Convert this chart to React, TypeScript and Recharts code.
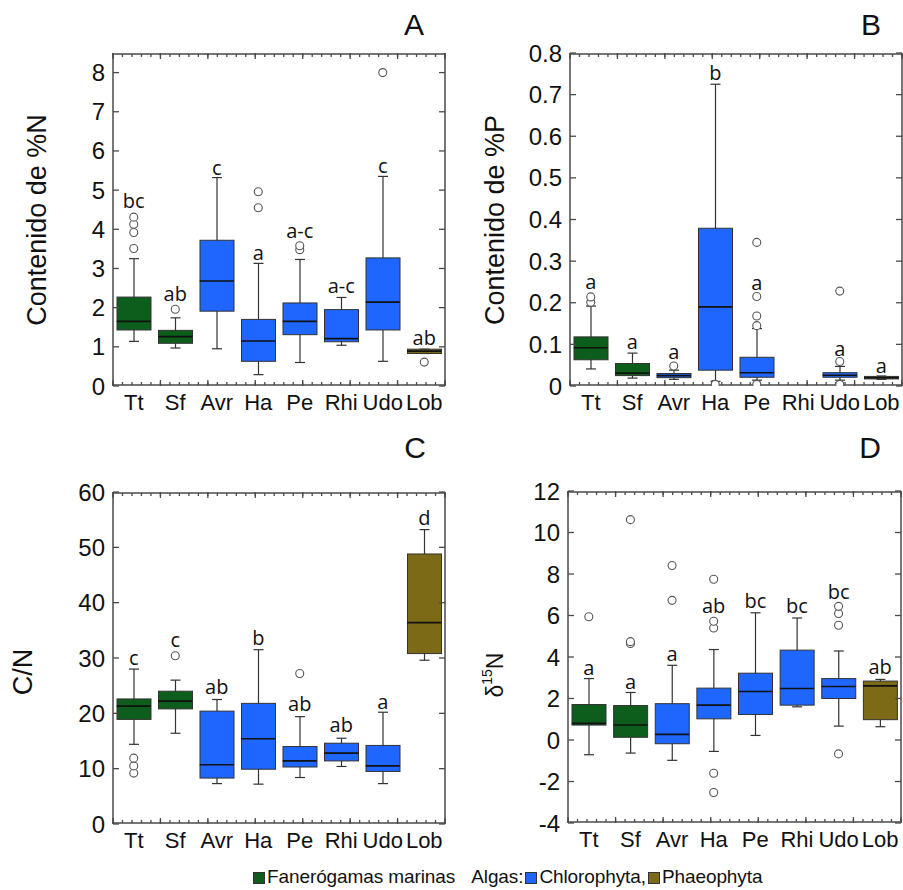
import React from "react";
import { ComposedChart, Bar, Scatter, XAxis, YAxis } from "recharts";

const CATS = ["Tt", "Sf", "Avr", "Ha", "Pe", "Rhi", "Udo", "Lob"];
const GROUP = ["fan", "fan", "chl", "chl", "chl", "chl", "chl", "pha"];

// A - contenido de %N
const N_LO = [1.14, 0.97, 0.95, 0.29, 0.6, 1.04, 0.63, 0.83];
const N_Q1 = [1.43, 1.09, 1.91, 0.63, 1.31, 1.13, 1.43, 0.83];
const N_MED = [1.65, 1.26, 2.68, 1.15, 1.65, 1.21, 2.14, 0.89];
const N_Q3 = [2.27, 1.42, 3.72, 1.7, 2.12, 1.95, 3.27, 0.94];
const N_HI = [3.25, 1.74, 5.32, 3.13, 3.23, 2.26, 5.35, 0.94];
const N_OUT = [[3.51, 3.92, 4.13, 4.31], [1.96], [], [4.55, 4.96], [3.48, 3.58], [], [8.0], [0.61]];
const N_SIG = ["bc", "ab", "c", "a", "a-c", "a-c", "c", "ab"];
const N_SIG_AT = [4.74, 2.36, 5.59, 3.42, 3.98, 2.56, 5.64, 1.23];

// B - contenido de %P (sin datos para Rhi)
const P_LO = [0.041, 0.019, 0.016, 0.011, 0.014, null, 0.014, 0.016];
const P_Q1 = [0.063, 0.025, 0.02, 0.038, 0.021, null, 0.021, 0.017];
const P_MED = [0.092, 0.031, 0.025, 0.19, 0.032, null, 0.026, 0.02];
const P_Q3 = [0.118, 0.054, 0.03, 0.379, 0.069, null, 0.032, 0.023];
const P_HI = [0.192, 0.079, 0.038, 0.725, 0.138, null, 0.047, 0.024];
const P_OUT = [[0.201, 0.214], [], [0.048], [0.004], [0.004, 0.145, 0.168, 0.215, 0.345], [], [0.004, 0.059, 0.228], []];
const P_SIG = ["a", "a", "a", "b", "a", "", "a", "a"];
const P_SIG_AT = [0.25, 0.106, 0.082, 0.752, 0.248, null, 0.091, 0.05];

// C - C/N
const CN_LO = [14.4, 16.4, 7.3, 7.2, 8.4, 10.4, 7.3, 29.6];
const CN_Q1 = [18.9, 20.8, 8.3, 9.9, 10.3, 11.4, 9.5, 30.8];
const CN_MED = [21.3, 22.2, 10.7, 15.4, 11.4, 12.8, 10.5, 36.4];
const CN_Q3 = [22.6, 24.0, 20.4, 21.8, 14.0, 14.6, 14.2, 48.8];
const CN_HI = [28.0, 26.0, 22.5, 31.5, 19.4, 15.5, 20.2, 53.2];
const CN_OUT = [[9.2, 10.5, 11.9], [30.4], [], [], [27.2], [], [], []];
const CN_SIG = ["c", "c", "ab", "b", "ab", "ab", "a", "d"];
const CN_SIG_AT = [30.1, 33.4, 24.8, 33.7, 21.7, 17.9, 22.2, 55.4];

// D - δ15N
const D_LO = [-0.71, -0.63, -0.98, -0.55, 0.22, 1.6, 0.67, 0.64];
const D_Q1 = [0.72, 0.13, -0.18, 1.02, 1.23, 1.68, 2.0, 0.98];
const D_MED = [0.8, 0.72, 0.27, 1.68, 2.34, 2.48, 2.58, 2.61];
const D_Q3 = [1.71, 1.66, 1.75, 2.5, 3.22, 4.33, 2.96, 2.84];
const D_HI = [2.96, 2.29, 3.6, 4.36, 6.13, 5.88, 4.29, 2.92];
const D_OUT = [[5.94], [4.65, 4.74, 10.62], [6.73, 8.41], [-2.53, -1.6, 5.4, 5.72, 7.75], [], [], [-0.67, 5.53, 6.1, 6.44], []];
const D_SIG = ["a", "a", "a", "ab", "bc", "bc", "bc", "ab"];
const D_SIG_AT = [3.49, 2.8, 4.16, 6.46, 6.7, 6.46, 7.18, 3.52];

const N_TICKS = [0, 1, 2, 3, 4, 5, 6, 7, 8];
const P_TICKS = [0, 0.1, 0.2, 0.3, 0.4, 0.5, 0.6, 0.7, 0.8];
const CN_TICKS = [0, 10, 20, 30, 40, 50, 60];
const D_TICKS = [-4, -2, 0, 2, 4, 6, 8, 10, 12];

const FILL: Record<string, string> = { fan: "#0d5e1c", chl: "#1f66ff", pha: "#7d6a16" };
const FRAME = "#4a4a4a";
const INK = "#333";
const SANS = "'Liberation Sans', Arial, sans-serif";
const LETTER_FONT = "'Open Sans', sans-serif";
const BOX_W = 34;
const CAP_W = 10;
const MAX_OUT = 5;

// marcas del marco: bordes de categoria y subdivisiones
const X_MAJOR = [0, 1, 2, 3, 4, 5, 6, 7, 8];
const X_MINOR = Array.from({ length: 41 }, (_, i) => i / 5);

// sin texto, pero recharts sigue dibujando la linea de la marca
const NoLabel = () => <g />;

function buildRows(lo: any[], q1: any[], med: any[], q3: any[], hi: any[], out: number[][], sig: string[], sigAt: any[]) {
  return CATS.map((cat, i) => {
    const row: any = {
      cat,
      group: GROUP[i],
      whisk: lo[i] == null ? null : [lo[i], hi[i]],
      box: q1[i] == null ? null : [q1[i], q3[i]],
      med: med[i],
      sig: sig[i],
      sigAt: sigAt[i],
    };
    for (let k = 0; k < MAX_OUT; k++) row["o" + k] = out[i][k] ?? null;
    return row;
  });
}

const WhiskerShape = (p: any) => {
  if (p.payload.whisk == null) return <g />;
  const cx = p.x + p.width / 2;
  const y2 = p.y + p.height;
  return (
    <g stroke={INK} strokeWidth={1.2}>
      <line x1={cx} x2={cx} y1={p.y} y2={y2} />
      <line x1={cx - CAP_W / 2} x2={cx + CAP_W / 2} y1={p.y} y2={p.y} />
      <line x1={cx - CAP_W / 2} x2={cx + CAP_W / 2} y1={y2} y2={y2} />
    </g>
  );
};

const BoxShape = (p: any) => {
  if (p.payload.box == null) return <g />;
  return (
    <rect
      x={p.x}
      y={p.y}
      width={p.width}
      height={Math.max(p.height, 1)}
      fill={FILL[p.payload.group]}
      stroke={INK}
      strokeWidth={1}
    />
  );
};

const MedianShape = (p: any) => {
  if (p.payload.med == null) return <g />;
  return (
    <line x1={p.cx - BOX_W / 2} x2={p.cx + BOX_W / 2} y1={p.cy} y2={p.cy} stroke="#111" strokeWidth={1.6} />
  );
};

const outlierShape = (key: string) => (p: any) => {
  if (p.payload[key] == null) return <g />;
  return <circle cx={p.cx} cy={p.cy} r={4} fill="#fff" stroke="#555" strokeWidth={1.1} />;
};

const SigShape = (p: any) => {
  if (p.payload.sigAt == null) return <g />;
  return (
    <text x={p.cx} y={p.cy} textAnchor="middle" dominantBaseline="central" fontSize={20} fontFamily={LETTER_FONT} fill="#111">
      {p.payload.sig}
    </text>
  );
};

type PanelProps = {
  left: number;
  top: number;
  width: number;
  height: number;
  margin: { top: number; right: number; bottom: number; left: number };
  rows: any[];
  domain: [number, number];
  ticks: number[];
  yTitle: React.ReactNode;
  titleX: number;
  titleY: number;
  titleSize: number;
};

function Panel({ left, top, width, height, margin, rows, domain, ticks, yTitle, titleX, titleY, titleSize }: PanelProps) {
  const frameLine = { stroke: FRAME, strokeWidth: 1.5 };
  const tickLine = { stroke: FRAME, strokeWidth: 1.3 };
  return (
    <div style={{ position: "absolute", left, top }}>
      <ComposedChart width={width} height={height} data={rows} margin={margin} barSize={BOX_W} barGap={-BOX_W}>
        <XAxis
          xAxisId="cat"
          dataKey="cat"
          interval={0}
          height={30}
          tickLine={false}
          axisLine={false}
          tick={{ fontSize: 22, fill: "#111", fontFamily: SANS }}
        />
        <XAxis xAxisId="bMinor" type="number" domain={[0, 8]} ticks={X_MINOR} interval={0} orientation="bottom" mirror height={1} tick={NoLabel} tickSize={3} tickLine={tickLine} axisLine={frameLine} allowDataOverflow />
        <XAxis xAxisId="bMajor" type="number" domain={[0, 8]} ticks={X_MAJOR} interval={0} orientation="bottom" mirror height={1} tick={NoLabel} tickSize={6} tickLine={tickLine} axisLine={false} allowDataOverflow />
        <XAxis xAxisId="tMinor" type="number" domain={[0, 8]} ticks={X_MINOR} interval={0} orientation="top" mirror height={1} tick={NoLabel} tickSize={3} tickLine={tickLine} axisLine={frameLine} allowDataOverflow />
        <XAxis xAxisId="tMajor" type="number" domain={[0, 8]} ticks={X_MAJOR} interval={0} orientation="top" mirror height={1} tick={NoLabel} tickSize={6} tickLine={tickLine} axisLine={false} allowDataOverflow />
        <YAxis
          yAxisId="v"
          type="number"
          domain={domain}
          ticks={ticks}
          interval={0}
          width={60}
          allowDataOverflow
          tickLine={false}
          axisLine={frameLine}
          tick={{ fontSize: 24, fill: "#111", fontFamily: SANS }}
          label={{
            content: () => (
              <text
                x={titleX}
                y={titleY}
                transform={`rotate(-90 ${titleX} ${titleY})`}
                textAnchor="middle"
                dominantBaseline="central"
                fontSize={titleSize}
                fontFamily={SANS}
                fill="#111"
              >
                {yTitle}
              </text>
            ),
          }}
        />
        <YAxis yAxisId="vl" type="number" orientation="left" mirror width={1} domain={domain} ticks={ticks} interval={0} allowDataOverflow tick={NoLabel} tickSize={6} tickLine={tickLine} axisLine={false} />
        <YAxis yAxisId="vr" type="number" orientation="right" mirror width={1} domain={domain} ticks={ticks} interval={0} allowDataOverflow tick={NoLabel} tickSize={6} tickLine={tickLine} axisLine={frameLine} />

        <Bar xAxisId="cat" yAxisId="v" dataKey="whisk" shape={WhiskerShape} isAnimationActive={false} />
        <Bar xAxisId="cat" yAxisId="v" dataKey="box" shape={BoxShape} isAnimationActive={false} />
        <Scatter xAxisId="cat" yAxisId="v" dataKey="med" shape={MedianShape} isAnimationActive={false} />
        {Array.from({ length: MAX_OUT }, (_, k) => (
          <Scatter key={k} xAxisId="cat" yAxisId="v" dataKey={"o" + k} shape={outlierShape("o" + k)} isAnimationActive={false} />
        ))}
        <Scatter xAxisId="cat" yAxisId="v" dataKey="sigAt" shape={SigShape} isAnimationActive={false} />
      </ComposedChart>
    </div>
  );
}

const panelLetter = (text: string, x: number, y: number) => (
  <div
    style={{
      position: "absolute",
      left: x,
      top: y,
      transform: "translate(-50%, -50%)",
      fontFamily: SANS,
      fontSize: 30,
      lineHeight: 1,
      color: "#111",
    }}
  >
    {text}
  </div>
);

const Swatch = ({ color }: { color: string }) => (
  <span
    style={{
      display: "inline-block",
      width: 10,
      height: 10,
      background: color,
      border: "1px solid #333",
      marginRight: 2,
      verticalAlign: "-1px",
    }}
  />
);

export default function App() {
  const nRows = buildRows(N_LO, N_Q1, N_MED, N_Q3, N_HI, N_OUT, N_SIG, N_SIG_AT);
  const pRows = buildRows(P_LO, P_Q1, P_MED, P_Q3, P_HI, P_OUT, P_SIG, P_SIG_AT);
  const cnRows = buildRows(CN_LO, CN_Q1, CN_MED, CN_Q3, CN_HI, CN_OUT, CN_SIG, CN_SIG_AT);
  const dRows = buildRows(D_LO, D_Q1, D_MED, D_Q3, D_HI, D_OUT, D_SIG, D_SIG_AT);

  return (
    <div style={{ position: "absolute", left: 0, top: 0, width: 903, height: 890, background: "#fff", overflow: "hidden" }}>
      <Panel
        left={0}
        top={0}
        width={450}
        height={420}
        margin={{ top: 53, right: 5, bottom: 4, left: 53 }}
        rows={nRows}
        domain={[0, 8.5]}
        ticks={N_TICKS}
        yTitle="Contenido de %N"
        titleX={37}
        titleY={220}
        titleSize={27}
      />
      <Panel
        left={450}
        top={0}
        width={453}
        height={420}
        margin={{ top: 53, right: 1, bottom: 4, left: 60 }}
        rows={pRows}
        domain={[0, 0.8]}
        ticks={P_TICKS}
        yTitle="Contenido de %P"
        titleX={45}
        titleY={220}
        titleSize={27}
      />
      <Panel
        left={0}
        top={420}
        width={450}
        height={440}
        margin={{ top: 72, right: 5, bottom: 6, left: 53 }}
        rows={cnRows}
        domain={[0, 60]}
        ticks={CN_TICKS}
        yTitle="C/N"
        titleX={23}
        titleY={252}
        titleSize={27}
      />
      <Panel
        left={450}
        top={420}
        width={453}
        height={440}
        margin={{ top: 71, right: 2, bottom: 7, left: 58 }}
        rows={dRows}
        domain={[-4, 12]}
        ticks={D_TICKS}
        yTitle={
          <>
            δ<tspan fontSize={14} dy={-8}>15</tspan>
            <tspan dy={8}>N</tspan>
          </>
        }
        titleX={45}
        titleY={255}
        titleSize={23}
      />
      {panelLetter("A", 414, 25)}
      {panelLetter("B", 871, 25)}
      {panelLetter("C", 415, 448)}
      {panelLetter("D", 870, 448)}
      <div
        style={{
          position: "absolute",
          left: 253,
          top: 866,
          fontFamily: SANS,
          fontSize: 19,
          lineHeight: "22px",
          color: "#111",
          whiteSpace: "nowrap",
          letterSpacing: "-0.1px",
        }}
      >
        <Swatch color={FILL.fan} />
        Fanerógamas marinas
        <span style={{ marginLeft: 16 }}>Algas:</span>
        <span style={{ marginLeft: 2 }} />
        <Swatch color={FILL.chl} />
        Chlorophyta,
        <span style={{ marginLeft: 2 }} />
        <Swatch color={FILL.pha} />
        Phaeophyta
      </div>
    </div>
  );
}
